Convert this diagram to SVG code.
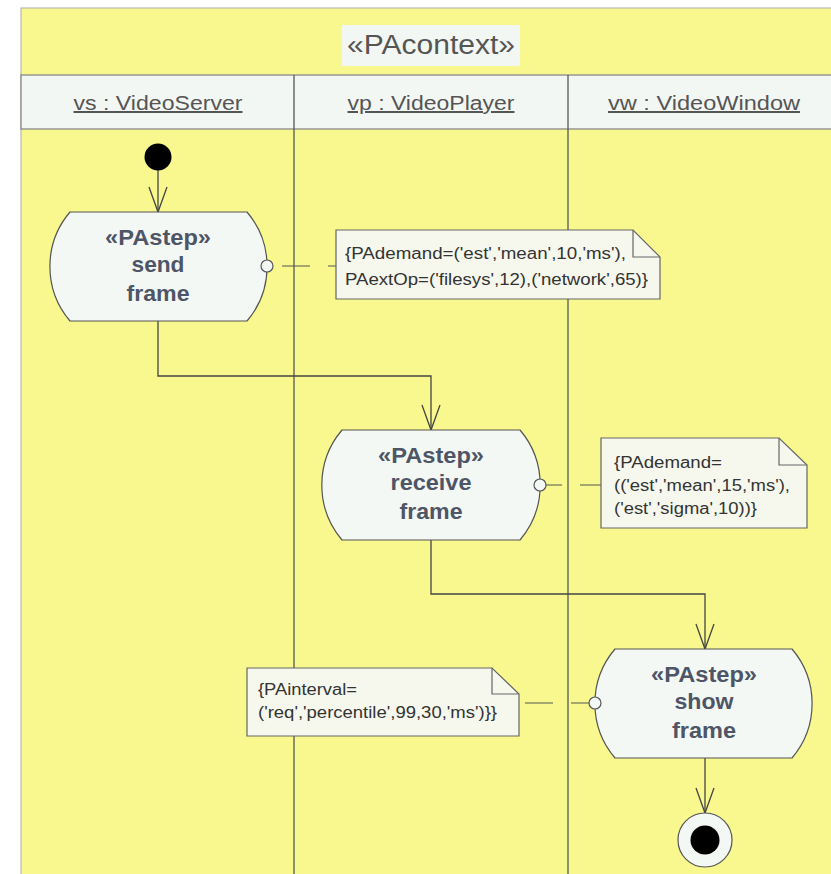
<svg xmlns="http://www.w3.org/2000/svg" width="831" height="874" viewBox="0 0 831 874">
<style>
.bg{fill:#f8f88f}
.node{fill:#f4f8f5;stroke:#555;stroke-width:1.2}
.lane{stroke:#555;stroke-width:1.3}
.hdr{font-family:"Liberation Sans",Arial,sans-serif;font-size:20px;fill:#555;text-anchor:middle;text-decoration:underline}
.title{font-family:"Liberation Sans",Arial,sans-serif;font-size:27px;fill:#555;text-anchor:middle}
.step{font-family:"Liberation Sans",Arial,sans-serif;font-size:22px;font-weight:bold;fill:#4e5566;text-anchor:middle}
.note{fill:#f6f8ee;stroke:#666;stroke-width:1.2}
.fold{fill:none;stroke:#666;stroke-width:1.2}
.ntxt{font-family:"Liberation Sans",Arial,sans-serif;font-size:16px;fill:#333}
.flow{fill:none;stroke:#444;stroke-width:1.3}
.dash{fill:none;stroke:#555;stroke-width:1.2;stroke-dasharray:28 18}
</style>
<defs>
<marker id="open" markerWidth="30" markerHeight="24" refX="0" refY="0" viewBox="-27 -12 30 24" orient="auto" markerUnits="userSpaceOnUse">
<path d="M-25,-9 L0,0 L-25,9" fill="none" stroke="#444" stroke-width="1.3"/>
</marker>
</defs>
<rect x="0" y="0" width="831" height="874" fill="#ffffff"/>
<g id="frame">
<rect class="bg" x="21" y="8" width="812" height="870" stroke="#aaa" stroke-width="1"/>
<rect x="342" y="25" width="178" height="41" fill="#f3f7f4"/>
<text class="title" x="431" y="54" textLength="168" lengthAdjust="spacingAndGlyphs">«PAcontext»</text>
<rect x="21" y="75" width="812" height="54" fill="#f3f7f4" stroke="#888" stroke-width="1.3"/>
<line class="lane" x1="294" y1="75" x2="294" y2="874"/>
<line class="lane" x1="568" y1="75" x2="568" y2="874"/>
<text class="hdr" x="158" y="110" textLength="169" lengthAdjust="spacingAndGlyphs">vs : VideoServer</text>
<text class="hdr" x="431" y="110" textLength="167" lengthAdjust="spacingAndGlyphs">vp : VideoPlayer</text>
<text class="hdr" x="704" y="110" textLength="192" lengthAdjust="spacingAndGlyphs">vw : VideoWindow</text>
</g>
<g id="connectors">
<line class="flow" x1="158" y1="170" x2="158" y2="212" marker-end="url(#open)"/>
<polyline class="flow" points="158,321 158,376 431,376 431,430" marker-end="url(#open)"/>
<polyline class="flow" points="431,540 431,594 705,594 705,649" marker-end="url(#open)"/>
<line class="flow" x1="705" y1="758" x2="705" y2="813" marker-end="url(#open)"/>
<line class="dash" x1="273" y1="266" x2="336" y2="266" stroke-dashoffset="37"/>
<line class="dash" x1="546" y1="485" x2="601" y2="485" stroke-dashoffset="12"/>
<line class="dash" x1="520" y1="703" x2="590" y2="703" stroke-dashoffset="41"/>
</g>
<g id="initial">
<circle cx="158" cy="157" r="13.5" fill="#000"/>
</g>
<g id="send">
<path class="node" d="M70,212 H247 A84 84 0 0 1 247,321 H70 A84 84 0 0 1 70,212 Z"/>
<circle class="node" cx="267" cy="266" r="6"/>
<text class="step" x="158" y="245" textLength="106" lengthAdjust="spacingAndGlyphs">«PAstep»</text>
<text class="step" x="158" y="272" textLength="53" lengthAdjust="spacingAndGlyphs">send</text>
<text class="step" x="158" y="301" textLength="63" lengthAdjust="spacingAndGlyphs">frame</text>
</g>
<g id="note1">
<path class="note" d="M336,230 H633 L660,257 V299 H336 Z"/>
<path class="fold" d="M633,230 V257 H660"/>
<text class="ntxt" x="345" y="259" textLength="281" lengthAdjust="spacingAndGlyphs">{PAdemand=('est','mean',10,'ms'),</text>
<text class="ntxt" x="345" y="285" textLength="303" lengthAdjust="spacingAndGlyphs">PAextOp=('filesys',12),('network',65)}</text>
</g>
<g id="receive">
<path class="node" d="M342,430 H520 A85 85 0 0 1 520,540 H342 A85 85 0 0 1 342,430 Z"/>
<circle class="node" cx="540" cy="485" r="6"/>
<text class="step" x="431" y="463" textLength="106" lengthAdjust="spacingAndGlyphs">«PAstep»</text>
<text class="step" x="431" y="490" textLength="81" lengthAdjust="spacingAndGlyphs">receive</text>
<text class="step" x="431" y="519" textLength="63" lengthAdjust="spacingAndGlyphs">frame</text>
</g>
<g id="note2">
<path class="note" d="M601,438 H779 L807,465 V528 H601 Z"/>
<path class="fold" d="M779,438 V465 H807"/>
<text class="ntxt" x="614" y="468" textLength="108" lengthAdjust="spacingAndGlyphs">{PAdemand=</text>
<text class="ntxt" x="614" y="491" textLength="176" lengthAdjust="spacingAndGlyphs">(('est','mean',15,'ms'),</text>
<text class="ntxt" x="614" y="514" textLength="143" lengthAdjust="spacingAndGlyphs">('est','sigma',10))}</text>
</g>
<g id="show">
<path class="node" d="M615,649 H792 A84 84 0 0 1 792,758 H615 A84 84 0 0 1 615,649 Z"/>
<circle class="node" cx="595" cy="703" r="6"/>
<text class="step" x="704" y="682" textLength="106" lengthAdjust="spacingAndGlyphs">«PAstep»</text>
<text class="step" x="704" y="709" textLength="59" lengthAdjust="spacingAndGlyphs">show</text>
<text class="step" x="704" y="738" textLength="64" lengthAdjust="spacingAndGlyphs">frame</text>
</g>
<g id="note3">
<path class="note" d="M247,668 H492 L519,694 V736 H247 Z"/>
<path class="fold" d="M492,668 V694 H519"/>
<text class="ntxt" x="258" y="695" textLength="99" lengthAdjust="spacingAndGlyphs">{PAinterval=</text>
<text class="ntxt" x="258" y="718" textLength="239" lengthAdjust="spacingAndGlyphs">('req','percentile',99,30,'ms')}}</text>
</g>
<g id="final">
<circle class="node" cx="705" cy="840" r="27"/>
<circle cx="705" cy="840" r="14.5" fill="#000"/>
</g>
</svg>
